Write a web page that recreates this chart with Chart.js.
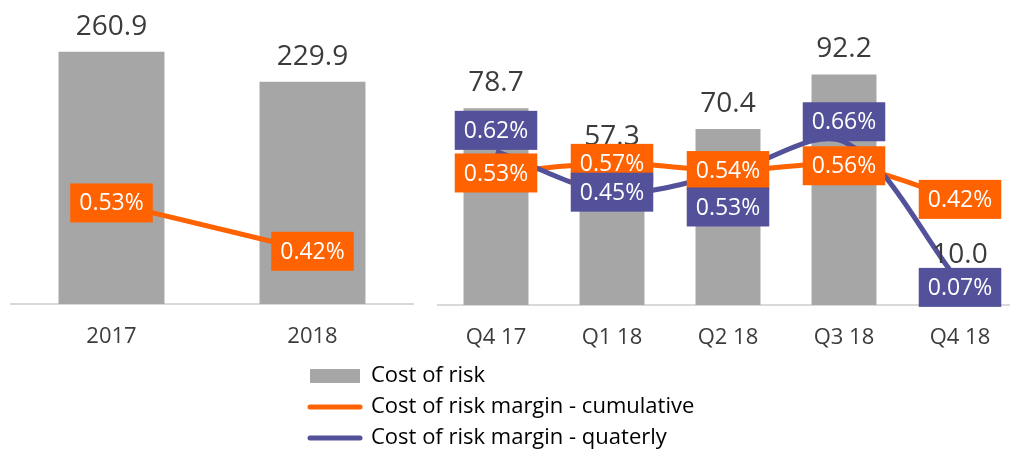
<!DOCTYPE html>
<html>
<head>
<meta charset="utf-8">
<script src="https://cdn.jsdelivr.net/npm/chart.js@4.4.1/dist/chart.umd.min.js"></script>
<style>
  html, body { margin: 0; padding: 0; background: #fff; overflow: hidden; }
  #wrap { position: relative; width: 1010px; height: 453px; overflow: hidden; }
  canvas { position: absolute; }
  #yearChart { left: 0; top: 0; }
  #quarterChart { left: 428px; top: 0; }
  #legendChart { left: 301px; top: 356px; }
</style>
</head>
<body>
<div id="wrap">
  <canvas id="yearChart" width="425" height="360"></canvas>
  <canvas id="quarterChart" width="600" height="360"></canvas>
  <canvas id="legendChart" width="900" height="120"></canvas>
</div>
<script>
// data
const seriesNames = ["Cost of risk", "Cost of risk margin - cumulative", "Cost of risk margin - quaterly"];

const yearLabels = ["2017", "2018"];
const yearCost = [260.9, 229.9];
const yearMarginCum = [0.53, 0.42];

const quarterLabels = ["Q4 17", "Q1 18", "Q2 18", "Q3 18", "Q4 18"];
const quarterCost = [78.7, 57.3, 70.4, 92.2, 10.0];
const quarterMarginCum = [0.53, 0.57, 0.54, 0.56, 0.42];
const quarterMarginQtr = [0.62, 0.45, 0.53, 0.66, 0.07];

// styles
const GREY = "#A6A6A6";
const ORANGE = "#FF6200";
const INDIGO = "#525199";
const TEXT = "#3c3c3c";
const FONT = "'Open Sans', sans-serif";
const qtrLabelShift = [-21, 0, 34, -20, 4];   // where the quarterly % boxes sit vs the point

Chart.defaults.font.family = FONT;
Chart.defaults.color = TEXT;

// draws value labels and the coloured % boxes
const labelPlugin = {
  id: "labelPlugin",
  afterDatasetsDraw(chart) {
    const ctx = chart.ctx;
    ctx.save();
    ctx.textAlign = "center";
    ctx.textBaseline = "middle";
    chart.data.datasets.forEach((ds, i) => {
      const meta = chart.getDatasetMeta(i);
      meta.data.forEach((el, j) => {
        const v = ds.data[j];
        if (meta.type === "bar") {
          ctx.font = "28px " + FONT;
          ctx.fillStyle = TEXT;
          ctx.fillText(v.toFixed(1), el.x, el.y - 25);
        } else {
          const text = v.toFixed(2) + "%";
          ctx.font = "23px " + FONT;
          const w = ctx.measureText(text).width + 18;
          const cy = el.y + (ds.labelShift ? ds.labelShift[j] : 0);
          ctx.fillStyle = ds.borderColor;
          ctx.fillRect(el.x - w / 2, cy - 19.5, w, 39);
          ctx.fillStyle = "#fff";
          ctx.fillText(text, el.x, cy + 1);
        }
      });
    });
    ctx.restore();
  }
};

function xAxis(h) {
  return {
    grid: { display: false },
    border: { display: true, color: "#D9D9D9", width: 2 },
    ticks: { font: { size: 22 }, color: TEXT, padding: 12 },
    afterFit: s => { s.height = h; }
  };
}

// yearly panel
new Chart(document.getElementById("yearChart"), {
  type: "bar",
  data: {
    labels: yearLabels,
    datasets: [
      {
        label: seriesNames[0],
        data: yearCost,
        backgroundColor: GREY,
        categoryPercentage: 1,
        barPercentage: 0.527,
        yAxisID: "y",
        order: 2
      },
      {
        type: "line",
        label: seriesNames[1],
        data: yearMarginCum,
        borderColor: ORANGE,
        backgroundColor: ORANGE,
        borderWidth: 5,
        pointRadius: 0,
        tension: 0,
        yAxisID: "y2",
        order: 1
      }
    ]
  },
  options: {
    responsive: false,
    animation: false,
    layout: { padding: { left: 11, right: 12, top: 14, bottom: 0 } },
    plugins: { legend: { display: false }, tooltip: { enabled: false } },
    scales: {
      x: xAxis(56),
      y: { display: false, min: 0, max: 300 },
      y2: { display: false, min: 0.3, max: 0.96 }
    }
  },
  plugins: [labelPlugin]
});

// quarterly panel
new Chart(document.getElementById("quarterChart"), {
  type: "bar",
  data: {
    labels: quarterLabels,
    datasets: [
      {
        label: seriesNames[0],
        data: quarterCost,
        backgroundColor: GREY,
        categoryPercentage: 1,
        barPercentage: 0.56,
        yAxisID: "y",
        order: 3
      },
      {
        type: "line",
        label: seriesNames[1],
        data: quarterMarginCum,
        borderColor: ORANGE,
        backgroundColor: ORANGE,
        borderWidth: 5,
        pointRadius: 0,
        tension: 0.33,
        yAxisID: "y2",
        order: 2
      },
      {
        type: "line",
        label: seriesNames[2],
        data: quarterMarginQtr,
        borderColor: INDIGO,
        backgroundColor: INDIGO,
        borderWidth: 5,
        pointRadius: 0,
        tension: 0.33,
        yAxisID: "y2",
        labelShift: qtrLabelShift,
        order: 1
      }
    ]
  },
  options: {
    responsive: false,
    animation: false,
    layout: { padding: { left: 10, right: 10, top: 15, bottom: 0 } },
    plugins: { legend: { display: false }, tooltip: { enabled: false } },
    scales: {
      x: xAxis(55),
      y: { display: false, min: 0, max: 116 },
      y2: { display: false, min: -0.02, max: 1.188 }
    }
  },
  plugins: [labelPlugin]
});

// legend only
new Chart(document.getElementById("legendChart"), {
  type: "bar",
  data: {
    labels: [],
    datasets: [
      { label: seriesNames[0], data: [], backgroundColor: GREY, borderColor: GREY },
      { type: "line", label: seriesNames[1], data: [], borderColor: ORANGE, backgroundColor: ORANGE },
      { type: "line", label: seriesNames[2], data: [], borderColor: INDIGO, backgroundColor: INDIGO }
    ]
  },
  options: {
    responsive: false,
    animation: false,
    scales: { x: { display: false }, y: { display: false } },
    plugins: {
      tooltip: { enabled: false },
      legend: {
        position: "left",
        align: "start",
        labels: {
          font: { size: 22 },
          color: "#404040",
          usePointStyle: true,
          pointStyleWidth: 50,
          boxHeight: 14,
          padding: 9,
          generateLabels: chart => chart.data.datasets.map((ds, i) => ({
            text: ds.label,
            fillStyle: ds.backgroundColor,
            strokeStyle: ds.borderColor,
            lineWidth: ds.type === "line" ? 5 : 0,
            lineCap: "round",
            pointStyle: ds.type === "line" ? "line" : "rect",
            hidden: false,
            datasetIndex: i
          }))
        }
      }
    }
  }
});
</script>
</body>
</html>
